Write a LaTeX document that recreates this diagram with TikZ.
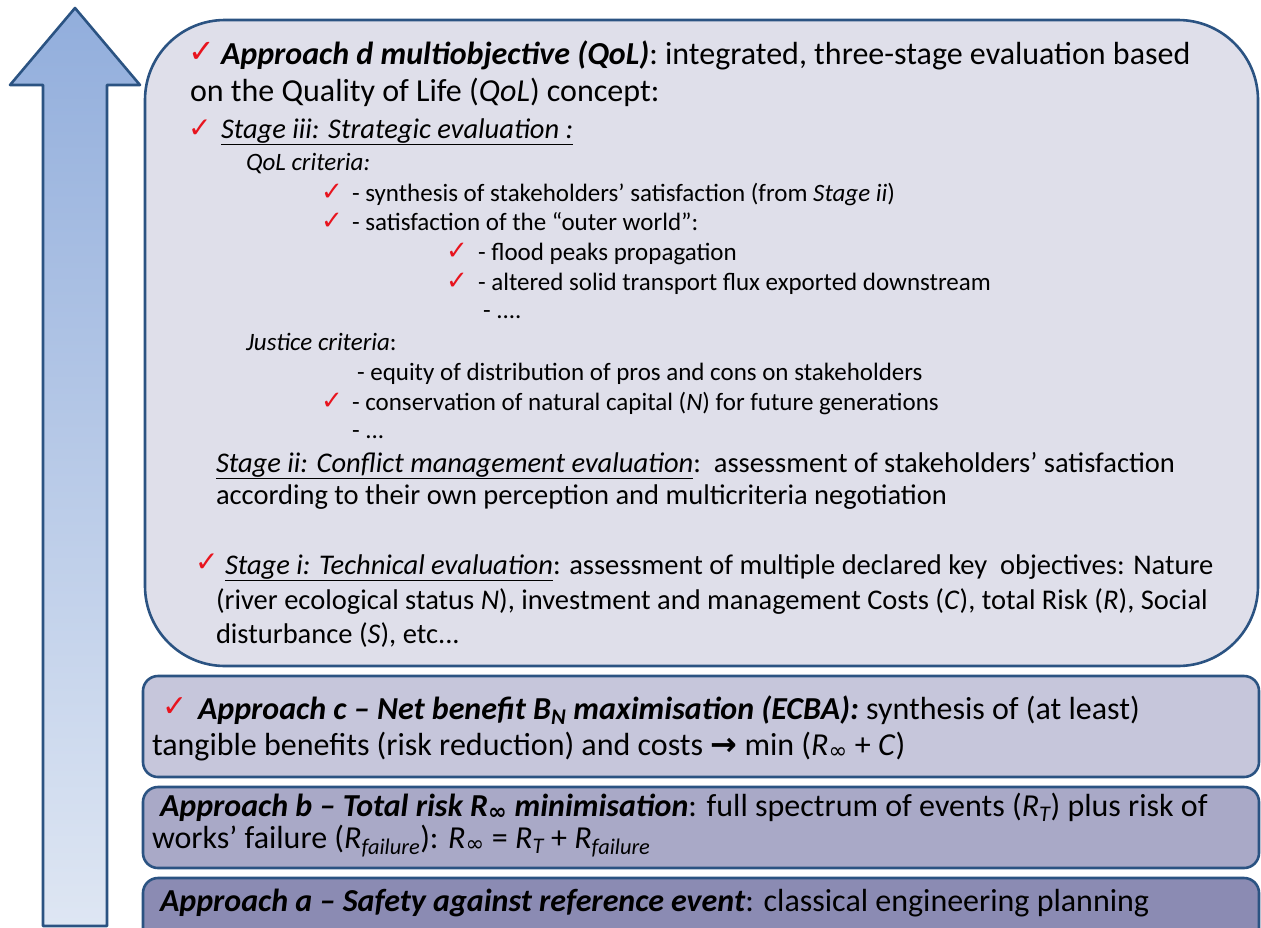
\documentclass[tikz,border=0pt]{standalone}
\usepackage{fontspec}
\setmainfont{Carlito}
\newfontfamily\symf{DejaVu Sans}
\definecolor{bord}{HTML}{2B5382}
\definecolor{boxd}{HTML}{DFDFEA}
\definecolor{boxc}{HTML}{C6C6DB}
\definecolor{boxb}{HTML}{A9A9C7}
\definecolor{boxa}{HTML}{8B8BB3}
\definecolor{arrtop}{HTML}{92AEDC}
\definecolor{arrbot}{HTML}{DEE6F3}
\definecolor{chkred}{HTML}{E8141E}
\newcommand\fs[1]{\fontsize{#1}{#1}\selectfont}
\newcommand\Rinf{\textit{R}\textsubscript{\symf ∞}}
\begin{document}
\begin{tikzpicture}[x=1pt,y=-1pt,line join=round,
  txt/.style={anchor=base west,inner sep=0pt,outer sep=0pt},
  big/.style={txt,font=\fs{32}},
  mid/.style={txt,font=\fs{28.5}},
  sml/.style={txt,font=\fs{25}},
  bot/.style={txt,font=\fs{32}},
  chkmark/.style={anchor=base west,inner sep=0pt,text=chkred,font=\symf\fs{#1}},
  chkmark/.default=26,
  panel/.style={draw=bord,line width=2.6pt}]
\useasboundingbox (0,0) rectangle (1261,927);
\clip (0,0) rectangle (1261,927);
% arrow
\draw[panel,top color=arrtop,bottom color=arrbot] (43,926) -- (43,85) -- (10,85) -- (75,8) -- (140,85) -- (107,85) -- (107,926) -- cycle;
% panels
\draw[panel,fill=boxd,rounded corners=80pt] (145,20) rectangle (1258,666);
\draw[panel,fill=boxc,rounded corners=15pt] (143,676) rectangle (1259,777);
\draw[panel,fill=boxb,rounded corners=15pt] (143,787) rectangle (1259,868);
\draw[panel,fill=boxa,rounded corners=15pt] (143,878) rectangle (1259,960);
% approach d
\node[chkmark=32] (c1) at (188,62) {✓};
\node[big] (l1) at (221,64) {\textbf{\textit{Approach d multiobjective (QoL)}}: integrated, three-stage evaluation based};
\node[big] (l2) at (190,101) {on the Quality of Life (\textit{QoL}) concept:};
\node[chkmark=28] (c3) at (188,137) {✓};
\node[mid] (l3) at (221,138) {\underline{\textit{Stage iii: Strategic evaluation :}}};
\node[sml] (l4) at (246,170) {\textit{QoL criteria:}};
\node[chkmark] (c5) at (321,200) {✓};
\node[sml] (l5) at (352,201) {- synthesis of stakeholders’ satisfaction (from \textit{Stage ii})};
\node[chkmark] (c6) at (321,229) {✓};
\node[sml] (l6) at (352,230) {- satisfaction of the “outer world”:};
\node[chkmark] (c7) at (446,259) {✓};
\node[sml] (l7) at (478,260) {- flood peaks propagation};
\node[chkmark] (c8) at (446,289) {✓};
\node[sml] (l8) at (478,290) {- altered solid transport flux exported downstream};
\node[sml] (l9) at (483,318) {- ....};
\node[sml] (l10) at (246,350) {\textit{Justice criteria}:};
\node[sml] (l11) at (357,380) {- equity of distribution of pros and cons on stakeholders};
\node[chkmark] (c12) at (321,409) {✓};
\node[sml] (l12) at (352,410) {- conservation of natural capital (\textit{N}) for future generations};
\node[sml] (l13) at (352,438) {- ...};
\node[mid] (l14) at (216,472) {\underline{\textit{Stage ii: Conflict management evaluation}}:\ \ assessment of stakeholders’ satisfaction};
\node[mid] (l15) at (216,504) {according to their own perception and multicriteria negotiation};
\node[chkmark=28] (c16) at (195,571) {✓};
\node[mid] (l16) at (225,574) {\underline{\textit{Stage i: Technical evaluation}}: assessment of multiple declared key\ \ objectives: Nature};
\node[mid] (l17) at (216,609) {(river ecological status \textit{N}), investment and management Costs (\textit{C}), total Risk (\textit{R}), Social};
\node[mid] (l18) at (216,643) {disturbance (\textit{S}), etc...};
% approach c
\node[chkmark=30] (c19) at (162,716) {✓};
\node[bot] (l19) at (198,719) {\textbf{\textit{Approach c -- Net benefit B\textsubscript{N} maximisation (ECBA):}} synthesis of (at least)};
\node[bot] (l20) at (152,755) {tangible benefits (risk reduction) and costs {\symf\bfseries →} min (\Rinf{} + \textit{C})};
% approach b
\node[bot] (l21) at (160,816) {\textbf{\textit{Approach b -- Total risk R\textsubscript{\symf ∞} minimisation}}: full spectrum of events (\textit{R\textsubscript{T}}) plus risk of};
\node[bot] (l22) at (152,848) {works’ failure (\textit{R\textsubscript{failure}}): \Rinf{} = \textit{R\textsubscript{T}} + \textit{R\textsubscript{failure}}};
% approach a
\node[bot] (l23) at (160,911) {\textbf{\textit{Approach a -- Safety against reference event}}: classical engineering planning};
\end{tikzpicture}
\end{document}
